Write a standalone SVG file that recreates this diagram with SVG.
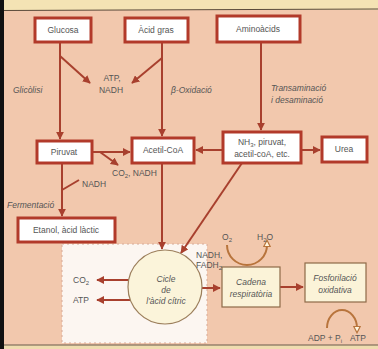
<svg xmlns="http://www.w3.org/2000/svg" width="378" height="349" viewBox="0 0 378 349">
<style>
.node{fill:#fff;stroke:#b23a2a;stroke-width:3}
.pale{fill:#fbf3d8;stroke:#8e6a48;stroke-width:1.2}
.t{font-family:"Liberation Sans",Arial,sans-serif;font-size:8.5px;fill:#555}
.c{text-anchor:middle}
.i{font-style:italic}
.ln{stroke:#a8402e;stroke-width:2;fill:none}
.arc{stroke:#b8743c;stroke-width:2;fill:none}
</style>
<defs>
<marker id="ah" viewBox="0 0 10 10" refX="9" refY="5" markerWidth="4" markerHeight="4" orient="auto">
<path d="M0,0 L10,5 L0,10 z" fill="#a8402e"/>
</marker>
<marker id="ao" viewBox="0 0 10 10" refX="3" refY="5" markerWidth="4" markerHeight="4" orient="auto">
<path d="M1,1 L9,5 L1,9 z" fill="#fff6e0" stroke="#b8743c" stroke-width="1.5"/>
</marker>
</defs>
<rect width="378" height="349" fill="#f2c8ad"/>
<rect width="378" height="10" fill="#f4e3b4"/>
<line x1="0" y1="10.5" x2="378" y2="9" stroke="#5a4a3a" stroke-width="1"/>
<rect y="345" width="378" height="4" fill="#efdcb0"/>
<line x1="0" y1="345" x2="378" y2="345" stroke="#6a5a4a" stroke-width="1"/>
<rect width="4" height="349" fill="#111"/>
<rect x="62" y="244" width="145" height="99" fill="#fcf6f1" stroke="#d6aa98" stroke-width="1" stroke-dasharray="2,3"/>

<g id="connectors">
<line class="ln" x1="60" y1="42" x2="60" y2="139" marker-end="url(#ah)"/>
<line class="ln" x1="60" y1="56" x2="90" y2="83" marker-end="url(#ah)"/>
<line class="ln" x1="162" y1="42" x2="162" y2="136" marker-end="url(#ah)"/>
<line class="ln" x1="162" y1="58" x2="132" y2="83" marker-end="url(#ah)"/>
<line class="ln" x1="261" y1="42" x2="261" y2="130" marker-end="url(#ah)"/>
<line class="ln" x1="92" y1="152" x2="130" y2="152" marker-end="url(#ah)"/>
<line class="ln" x1="100" y1="152" x2="118" y2="165" marker-end="url(#ah)"/>
<line class="ln" x1="223" y1="150" x2="196" y2="150" marker-end="url(#ah)"/>
<line class="ln" x1="301" y1="150" x2="320" y2="150" marker-end="url(#ah)"/>
<line class="ln" x1="62" y1="163" x2="62" y2="216" marker-end="url(#ah)"/>
<line class="ln" x1="62" y1="190" x2="79" y2="180"/>
<line class="ln" x1="162" y1="163" x2="162" y2="249" marker-end="url(#ah)"/>
<line class="ln" x1="242" y1="163" x2="181" y2="253" marker-end="url(#ah)"/>
<line class="ln" x1="129" y1="280" x2="97" y2="280" marker-end="url(#ah)"/>
<line class="ln" x1="130" y1="300" x2="97" y2="300" marker-end="url(#ah)"/>
<line class="ln" x1="202" y1="288" x2="220" y2="288" marker-end="url(#ah)"/>
<line class="ln" x1="280" y1="287" x2="303" y2="287" marker-end="url(#ah)"/>
<path class="arc" d="M227,245 A20,20 0 0 0 267,245" marker-end="url(#ao)"/>
<path class="arc" d="M327,328 A15,18 0 0 1 357,328" marker-end="url(#ao)"/>
</g>

<g id="glucosa"><rect class="node" x="35" y="18" width="56" height="24"/><text class="t c" x="63" y="33">Glucosa</text></g>
<g id="acid-gras"><rect class="node" x="125" y="18" width="63" height="24"/><text class="t c" x="156" y="33">Àcid gras</text></g>
<g id="aminoacids"><rect class="node" x="217" y="16" width="83" height="26"/><text class="t c" x="258" y="32">Aminoàcids</text></g>
<g id="piruvat"><rect class="node" x="37" y="141" width="55" height="22"/><text class="t c" x="64" y="155">Piruvat</text></g>
<g id="acetil-coa"><rect class="node" x="132" y="138" width="62" height="25"/><text class="t c" x="163" y="153">Acetil-CoA</text></g>
<g id="nh3"><rect class="node" x="223" y="132" width="78" height="31"/><text class="t c" x="262" y="145">NH<tspan font-size="6" dy="2">3</tspan><tspan dy="-2">, piruvat,</tspan></text><text class="t c" x="262" y="157">acetil-coA, etc.</text></g>
<g id="urea"><rect class="node" x="322" y="137" width="45" height="25"/><text class="t c" x="344" y="152">Urea</text></g>
<g id="etanol"><rect class="node" x="18" y="218" width="97" height="24"/><text class="t c" x="66" y="233">Etanol, àcid làctic</text></g>
<g id="cicle"><circle cx="165" cy="287" r="37" fill="#fbf4da" stroke="#9c7f5c" stroke-width="1.2"/><text class="t c i" x="166" y="282">Cicle</text><text class="t c i" x="166" y="293">de</text><text class="t c i" x="166" y="304">l'àcid cítric</text></g>
<g id="cadena"><rect class="pale" x="222" y="267" width="58" height="40"/><text class="t c i" x="251" y="285">Cadena</text><text class="t c i" x="251" y="297">respiratòria</text></g>
<g id="fosforilacio"><rect class="pale" x="305" y="263" width="61" height="39"/><text class="t c i" x="335" y="281">Fosforilació</text><text class="t c i" x="335" y="293">oxidativa</text></g>

<g id="labels">
<text class="t c" x="112" y="81">ATP,</text>
<text class="t c" x="111" y="93">NADH</text>
<text class="t i" x="13" y="93">Glicòlisi</text>
<text class="t i" x="171" y="93">β-Oxidació</text>
<text class="t i" x="271" y="91">Transaminació</text>
<text class="t i" x="271" y="103">i desaminació</text>
<text class="t" x="112" y="176">CO<tspan font-size="6" dy="2">2</tspan><tspan dy="-2">, NADH</tspan></text>
<text class="t" x="82" y="187">NADH</text>
<text class="t i" x="7" y="208">Fermentació</text>
<text class="t" x="73" y="283">CO<tspan font-size="6" dy="2">2</tspan></text>
<text class="t" x="73" y="303">ATP</text>
<text class="t" x="196" y="258">NADH,</text>
<text class="t" x="196" y="268">FADH<tspan font-size="6" dy="2">2</tspan></text>
<text class="t" x="222" y="240">O<tspan font-size="6" dy="2">2</tspan></text>
<text class="t" x="257" y="240">H<tspan font-size="6" dy="2">2</tspan><tspan dy="-2">O</tspan></text>
<text class="t" x="308" y="341">ADP + P<tspan font-size="6" dy="2">i</tspan></text>
<text class="t" x="350" y="341">ATP</text>
</g>
</svg>
